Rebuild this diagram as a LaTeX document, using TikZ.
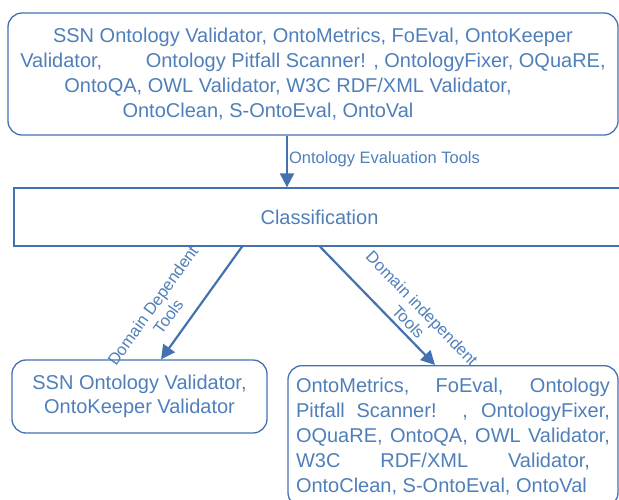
\documentclass[tikz,border=0pt]{standalone}
\usepackage{fontspec}
\setmainfont{Liberation Sans}
\usetikzlibrary{arrows.meta}
\definecolor{toolblue}{RGB}{68,114,176}
\definecolor{tooltext}{RGB}{79,127,186}

\begin{document}
\begin{tikzpicture}[x=1pt,y=-1pt,
    box/.style={draw=toolblue, line width=1.3pt, text=tooltext, inner sep=0pt,
      font=\fontsize{20}{25}\selectfont},
    roundbox/.style={box, rounded corners=14pt},
    arr/.style={draw=toolblue, line width=2.2pt, -{Triangle[length=14pt,width=14pt]}},
    lbl/.style={text=tooltext, inner sep=1pt, align=center,
      font=\fontsize{16.5}{19}\selectfont}]
  \useasboundingbox (0,0) rectangle (619,499);
  % all tools
  \node[roundbox, minimum width=610pt, minimum height=122pt, align=center] (tools) at (313,74)
    {SSN Ontology Validator, OntoMetrics, FoEval, OntoKeeper\\
     Validator, \hspace{38pt}Ontology Pitfall Scanner! , OntologyFixer, OQuaRE,\\
     OntoQA, OWL Validator, W3C RDF/XML Validator,\rule{50pt}{0pt}\\
     OntoClean, S-OntoEval, OntoVal\rule{90pt}{0pt}};
  \node[box, minimum width=611pt, minimum height=58pt] (cls) at (319.5,217) {Classification};
  % the two groups
  \node[roundbox, minimum width=255pt, minimum height=73pt, align=center,
    font=\fontsize{20}{24}\selectfont] (dep) at (139.5,396.5)
    {SSN Ontology Validator,\\OntoKeeper Validator};
  \node[roundbox, anchor=north, text width=314pt, inner xsep=8pt, inner ysep=12pt,
    align=justify] (indep) at (453,365)
    {\tolerance=10000\hbadness=10000
     OntoMetrics, FoEval, Ontology\linebreak
     Pitfall Scanner! , OntologyFixer,\linebreak
     OQuaRE, OntoQA, OWL Validator,\linebreak
     W3C RDF/XML Validator,\rule{20pt}{0pt}\linebreak
     OntoClean, S-OntoEval, OntoVal};
  % connectors
  \draw[arr] (tools.south -| 287,0) -- node[lbl, right, pos=0.45] (evallbl)
    {Ontology Evaluation Tools} (cls.north -| 287,0);
  \draw[arr] (cls.south -| 242,0) -- node[lbl, sloped, above=11pt, pos=0.72] (deplbl)
    {Domain Dependent\\Tools} (dep.north -| 161,0);
  \draw[arr] (cls.south -| 320,0) -- node[lbl, sloped, above=3pt, pos=0.70] (indeplbl)
    {Domain independent\\Tools} (indep.north -| 435,0);
\end{tikzpicture}
\end{document}
